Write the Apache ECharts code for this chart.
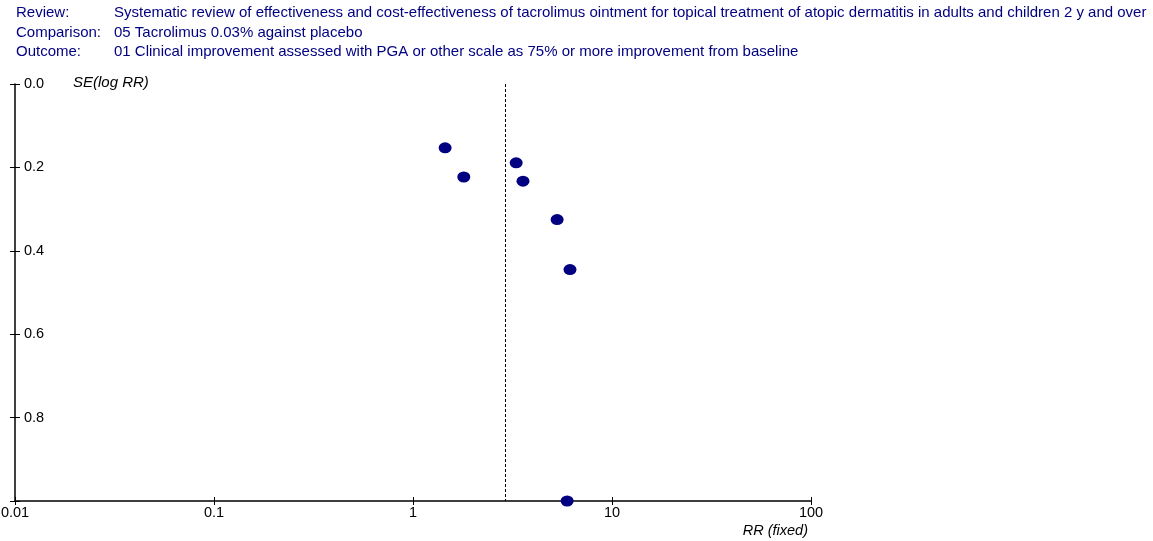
<!DOCTYPE html>
<html>
<head>
<meta charset="utf-8">
<script src="https://cdn.jsdelivr.net/npm/echarts@6/dist/echarts.min.js"></script>
<style>
  html, body { margin: 0; padding: 0; background: #fff; }
  #chart { width: 1153px; height: 541px; }
</style>
</head>
<body>
<div id="chart"></div>
<script>
// header rows
const headerLabels = ['Review:', 'Comparison:', 'Outcome:']
const headerTexts = [
  'Systematic review of effectiveness and cost-effectiveness of tacrolimus ointment for topical treatment of atopic dermatitis in adults and children 2 y and over',
  '05 Tacrolimus 0.03% against placebo',
  '01 Clinical improvement assessed with PGA or other scale as 75% or more improvement from baseline'
]

// studies: risk ratio and SE(log RR)
const studyRR = [1.45, 1.80, 3.30, 3.57, 5.30, 6.15, 5.95]
const studySE = [0.153, 0.223, 0.189, 0.233, 0.325, 0.445, 1.0]

// pooled fixed-effect estimate
const pooledRR = 2.9

const xTicks = [0.01, 0.1, 1, 10, 100]
const yTicks = [0, 0.2, 0.4, 0.6, 0.8]

const font = 'Arial, "Liberation Sans", sans-serif'
const headerColor = '#000080'

const chart = echarts.init(document.getElementById('chart'))

// grid box
const gLeft = 15, gRight = 342, gTop = 84, gBottom = 40
const gW = 1153 - gLeft - gRight
const gH = 541 - gTop - gBottom

const graphics = []
headerLabels.forEach((t, i) => {
  const y = 13 + i * 19.5
  graphics.push({
    type: 'text', x: 16, y: y,
    style: { text: t, font: '15px ' + font, fill: headerColor, verticalAlign: 'middle' }
  })
  graphics.push({
    type: 'text', x: 114, y: y,
    style: { text: headerTexts[i], font: '15px ' + font, fill: headerColor, verticalAlign: 'middle' }
  })
})
graphics.push({
  type: 'text', x: 73, y: 83,
  style: { text: 'SE(log RR)', font: 'italic 15px ' + font, fill: '#000', verticalAlign: 'middle' }
})
graphics.push({
  type: 'text', x: 808, y: 531,
  style: { text: 'RR (fixed)', font: 'italic 14.5px ' + font, fill: '#000', align: 'right', verticalAlign: 'middle' }
})

const tickStyle = { color: '#000', width: 1 }
const yBase = {
  type: 'value', min: 0, max: 1, interval: 0.2, inverse: true,
  splitLine: { show: false }
}
const xBase = {
  type: 'log', logBase: 10, min: 0.01, max: 100,
  splitLine: { show: false }
}

chart.setOption({
  animation: false,
  graphic: graphics,
  grid: {
    left: gLeft, right: gRight, top: gTop, bottom: gBottom,
    containLabel: false, outerBoundsMode: 'none'
  },
  xAxis: [
    Object.assign({}, xBase, {
      position: 'bottom',
      axisLine: { show: true, onZero: false, lineStyle: { color: '#000', width: 1.5 } },
      axisTick: { show: true, inside: true, length: 4, lineStyle: tickStyle },
      axisLabel: {
        color: '#000', fontSize: 14.5, fontFamily: font, margin: 4,
        formatter: v => {
          const m = xTicks.find(t => Math.abs(t - v) / t < 1e-6)
          return m === undefined ? '' : String(m)
        }
      }
    }),
    // same scale, moved down onto the bottom line: gives the lower half of each tick
    Object.assign({}, xBase, {
      position: 'top',
      offset: -gH,
      axisLine: { show: false, onZero: false },
      axisTick: { show: true, inside: true, length: 4, lineStyle: tickStyle },
      axisLabel: { show: false }
    })
  ],
  yAxis: [
    Object.assign({}, yBase, {
      position: 'left',
      axisLine: { show: true, onZero: false, lineStyle: { color: '#000', width: 1.5 } },
      axisTick: { show: true, inside: true, length: 5, lineStyle: tickStyle },
      axisLabel: {
        inside: true, margin: 9, color: '#000', fontSize: 14.5, fontFamily: font,
        formatter: v => yTicks.some(t => Math.abs(t - v) < 1e-9) ? v.toFixed(1) : ''
      }
    }),
    // same scale, moved left onto the y line: gives the left half of each tick
    Object.assign({}, yBase, {
      position: 'right',
      offset: -gW,
      axisLine: { show: false, onZero: false },
      axisTick: { show: true, inside: true, length: 5, lineStyle: tickStyle },
      axisLabel: { show: false }
    })
  ],
  series: [
    {
      type: 'scatter',
      xAxisIndex: 0,
      yAxisIndex: 0,
      symbol: 'circle',
      symbolSize: [13, 11],
      itemStyle: { color: '#000080', opacity: 1 },
      clip: false,
      data: studyRR.map((rr, i) => [rr, studySE[i]]),
      markLine: {
        silent: true,
        symbol: 'none',
        label: { show: false },
        lineStyle: { color: '#000', type: [3, 2], width: 1, opacity: 1 },
        data: [{ xAxis: pooledRR }]
      },
      z: 5
    }
  ]
})
</script>
</body>
</html>
